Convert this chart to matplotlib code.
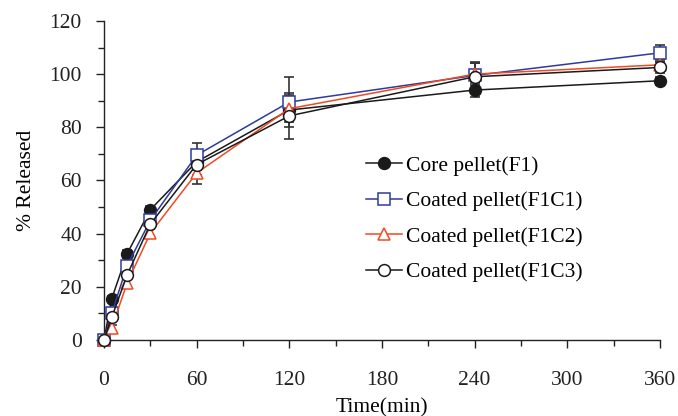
import numpy as np
import matplotlib.pyplot as plt
from matplotlib.ticker import MultipleLocator

plt.rcParams['font.family'] = ['Liberation Serif', 'DejaVu Serif']

# release profiles (% released vs time in minutes)
time = [0, 5, 15, 30, 60, 120, 240, 360]
f1 = [0, 15.5, 32.5, 49, 67, 86.5, 94, 97.5]
f1c1 = [0, 10, 28, 45, 69.5, 89.5, 99.5, 108]
f1c2 = [0, 4.5, 21.5, 40.2, 62.8, 87, 100, 103.5]
f1c3 = [0, 8.5, 24.5, 43.6, 66, 84.3, 99, 102.5]

f1_err = [0, 1, 1.5, 1.5, 3, 3, 2.5, 1.5]
f1c1_err = [0, 1, 1.5, 2, 4.5, 9.5, 5, 3]
f1c2_err = [0, 1, 1.5, 2, 4, 5, 4, 2]
f1c3_err = [0, 1, 1.5, 2, 4, 8.7, 5, 2]

labels = ['Core pellet(F1)', 'Coated pellet(F1C1)',
          'Coated pellet(F1C2)', 'Coated pellet(F1C3)']

fig = plt.figure(figsize=(6.78, 4.16), dpi=100)
ax = fig.add_axes([0.1534, 0.1827, 0.82, 0.767])

series = [
    (f1, f1_err, '#1a1a1a', 'o', '#1a1a1a', 8.5),
    (f1c1, f1c1_err, '#2e3b9c', 's', 'white', 8),
    (f1c2, f1c2_err, '#f04a22', '^', 'white', 9),
    (f1c3, f1c3_err, '#1a1a1a', 'o', 'white', 8.5),
]

for (vals, err, col, mk, fc, ms), lab in zip(series, labels):
    ax.errorbar(time, vals, yerr=err, fmt='none', ecolor='#333333',
                elinewidth=1.2, capsize=3.5, capthick=1.2, clip_on=False, zorder=2)
    ax.plot(time, vals, color=col, lw=1.1, marker=mk, ms=ms,
            mfc=fc, mec=col, mew=1.1, label=lab, clip_on=False, zorder=3)

ax.set_xlim(0, 360)
ax.set_ylim(0, 120)
ax.xaxis.set_major_locator(MultipleLocator(60))
ax.xaxis.set_minor_locator(MultipleLocator(30))
ax.yaxis.set_major_locator(MultipleLocator(20))
ax.yaxis.set_minor_locator(MultipleLocator(10))
ax.tick_params(which='both', direction='out', labelsize=15.5, width=1, colors='#222222')
ax.tick_params(which='major', length=6)
ax.tick_params(which='minor', length=4)
ax.tick_params(axis='x', which='major', pad=16)
ax.tick_params(axis='y', which='major', pad=10)

for s in ['top', 'right']:
    ax.spines[s].set_visible(False)
for s in ['left', 'bottom']:
    ax.spines[s].set_linewidth(1)
    ax.spines[s].set_color('#222222')

ax.set_xlabel('Time(min)', fontsize=15.5, labelpad=6)
ax.set_ylabel('% Released', fontsize=15.5, labelpad=10)

ax.legend(loc='upper left', bbox_to_anchor=(0.455, 0.605), frameon=False,
          fontsize=15.5, handlelength=1.7, handletextpad=0.2, labelspacing=0.72,
          borderaxespad=0)

fig.savefig('out.png', dpi=100)
